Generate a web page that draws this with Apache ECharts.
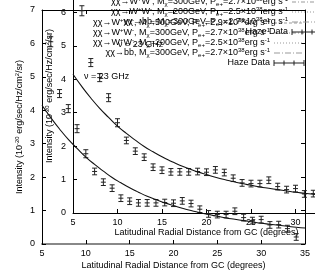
<!DOCTYPE html>
<html><head><meta charset="utf-8">
<script src="https://cdn.jsdelivr.net/npm/echarts/dist/echarts.min.js"></script>
<style>html,body{margin:0;padding:0;background:#fff}#c{width:315px;height:270px}</style>
</head><body><div id="c"></div>
<script>
// ---- data ----
const hazeX = [6,7,8,9,10,11,12,13,14,15,16,17,18,19,20,21,22,23,24,25,26,27,28,29,30,31,32,33,34];
const hazeY = [6.05,4.5,4.05,3.45,2.7,2.17,1.85,1.67,1.37,1.28,1.23,1.23,1.23,1.24,1.22,1.29,1.21,1.04,0.9,0.88,0.88,0.98,0.79,0.7,0.73,0.57,0.58,0.46,0.21];
const hazeErr = [0.15,0.12,0.12,0.12,0.12,0.1,0.1,0.1,0.1,0.1,0.1,0.1,0.1,0.1,0.1,0.1,0.1,0.1,0.1,0.1,0.1,0.1,0.1,0.1,0.1,0.1,0.1,0.1,0.1];
const modelX = [5,6,7,8,9,10,11,12,13,14,15,16,17,18,19,20,21,22,23,24,25,26,27,28,29,30,31,32,33,34,35];
const modelY = [4.15,3.78,3.44,3.13,2.86,2.6,2.38,2.18,1.99,1.83,1.68,1.55,1.43,1.33,1.23,1.15,1.07,1.0,0.94,0.88,0.83,0.78,0.74,0.7,0.66,0.62,0.59,0.56,0.53,0.5,0.48];
const xRange = [5, 35];
const yRange = [0, 7];
const legendLabels = [
  'χχ→W{sup|+}W{sup|-}, M{sub|χ}=500GeV, P{sub|e+}=2.9×10{sup|38}erg s{sup|-1}',
  'χχ→W{sup|+}W{sup|-}, M{sub|χ}=300GeV, P{sub|e+}=2.7×10{sup|38}erg s{sup|-1}',
  'χχ→W{sup|+}W{sup|-}, M{sub|χ}=200GeV, P{sub|e+}=2.5×10{sup|38}erg s{sup|-1}',
  'χχ→bb, M{sub|χ}=300GeV, P{sub|e+}=2.7×10{sup|38}erg s{sup|-1}',
  'Haze Data'
];
const freqLabel = 'ν = 23 GHz';
const xName = 'Latitudinal Radial Distance from GC (degrees)';
const yName = 'Intensity (10{sup|-20} erg/sec/Hz/cm{sup|2}/sr)';

const FONT = 'Liberation Sans, Arial, sans-serif';
const FS = 9;
const rich = {
  sup: {fontSize: 6, verticalAlign: 'top', fontFamily: FONT, lineHeight: 11},
  sub: {fontSize: 6, verticalAlign: 'bottom', fontFamily: FONT, lineHeight: 11},
  n: {fontSize: FS, fontFamily: FONT, lineHeight: 11}
};

const chart = echarts.init(document.getElementById('c'), null, {renderer: 'canvas'});
const hazeData = hazeX.map((x, i) => [x, hazeY[i], hazeErr[i]]);
const modelData = modelX.map((x, i) => [x, modelY[i]]);

function errRender(params, api) {
  const x = api.value(0), y = api.value(1), e = api.value(2);
  const c = api.coord([x, y]);
  const hi = api.coord([x, y + e]);
  const lo = api.coord([x, y - e]);
  const st = {stroke: '#222', lineWidth: 1};
  const w = 2.5;
  return {type: 'group', children: [
    {type: 'line', shape: {x1: c[0], y1: hi[1], x2: c[0], y2: lo[1]}, style: st},
    {type: 'line', shape: {x1: c[0] - w, y1: hi[1], x2: c[0] + w, y2: hi[1]}, style: st},
    {type: 'line', shape: {x1: c[0] - w, y1: lo[1], x2: c[0] + w, y2: lo[1]}, style: st},
    {type: 'line', shape: {x1: c[0] - 2.5, y1: c[1], x2: c[0] + 2.5, y2: c[1]}, style: st}
  ]};
}

function xAx(grid, pos, labels, name, gap) {
  return {
    type: 'value', gridIndex: grid, position: pos, min: xRange[0], max: xRange[1], interval: 5,
    axisLine: {show: true, onZero: false, lineStyle: {color: '#000', width: 1}},
    axisTick: {show: true, inside: true, length: 4, lineStyle: {color: '#000'}},
    axisLabel: {show: labels, color: '#000', fontSize: FS, fontFamily: FONT, margin: 5},
    splitLine: {show: false},
    name: name, nameLocation: 'middle', nameGap: gap, nameMoveOverlap: false,
    nameTextStyle: {color: '#000', fontSize: FS, fontFamily: FONT}
  };
}
function yAx(grid, pos, labels, name, gap) {
  return {
    type: 'value', gridIndex: grid, position: pos, min: yRange[0], max: yRange[1], interval: 1,
    axisLine: {show: true, onZero: false, lineStyle: {color: '#000', width: 1}},
    axisTick: {show: true, inside: true, length: 4, lineStyle: {color: '#000'}},
    axisLabel: {show: labels, color: '#000', fontSize: FS, fontFamily: FONT, margin: 7},
    splitLine: {show: false},
    name: name, nameLocation: 'middle', nameGap: gap, nameRotate: 90, nameMoveOverlap: false,
    nameTextStyle: {color: '#000', fontSize: FS, fontFamily: FONT, rich: rich}
  };
}

const xa0 = xAx(0, 'bottom', true, xName, 17);
xa0.axisLine.lineStyle = {color: '#888', width: 2};
const option = {
  animation: false,
  backgroundColor: '#fff',
  grid: [
    {left: 42, top: 10, width: 263, height: 234, containLabel: false, outerBoundsMode: 'none'},
    {left: 73, top: -21, width: 267, height: 234, containLabel: false, outerBoundsMode: 'none'}
  ],
  xAxis: [
    xa0,
    xAx(0, 'top', false, '', 0),
    xAx(1, 'bottom', true, xName, 15)
  ],
  yAxis: [
    yAx(0, 'left', true, yName, 17),
    yAx(0, 'right', false, '', 0),
    yAx(1, 'left', true, yName, 18)
  ],
  series: [
    {type: 'line', xAxisIndex: 0, yAxisIndex: 0, data: modelData, smooth: true, showSymbol: false,
     lineStyle: {color: '#111', width: 1.1}},
    {type: 'custom', xAxisIndex: 0, yAxisIndex: 0, data: hazeData, renderItem: errRender, clip: false},
    {type: 'line', xAxisIndex: 2, yAxisIndex: 2, data: modelData, smooth: true, showSymbol: false,
     lineStyle: {color: '#111', width: 1.1}},
    {type: 'custom', xAxisIndex: 2, yAxisIndex: 2, data: hazeData, renderItem: errRender, clip: false}
  ],
  graphic: []
};

// keys (one per plot), text right-aligned with a sample to the right
const sampleDash = [[3, 2], [4, 2, 1, 2], [1, 2], [6, 2, 1, 2], null];
function addKey(rightX, topY, sx1, sx2) {
  legendLabels.forEach((lab, i) => {
    const y = topY + i * 10;
    option.graphic.push({type: 'text', x: rightX, y: y, z: 100,
      style: {text: lab, rich: rich, fill: '#000', font: FS + 'px ' + FONT, align: 'right', verticalAlign: 'middle'}});
    if (sampleDash[i]) {
      option.graphic.push({type: 'line', z: 100, shape: {x1: sx1, y1: y, x2: sx2, y2: y},
        style: {stroke: '#999', lineWidth: 1, lineDash: sampleDash[i]}});
    } else {
      const st = {stroke: '#222', lineWidth: 1};
      option.graphic.push({type: 'line', z: 100, shape: {x1: sx1, y1: y, x2: sx2, y2: y}, style: st});
      [sx1, sx2].forEach(xx => option.graphic.push({type: 'line', z: 100, shape: {x1: xx, y1: y - 3, x2: xx, y2: y + 3}, style: st}));
      [sx1 + (sx2 - sx1) / 3, sx1 + 2 * (sx2 - sx1) / 3].forEach(xx => option.graphic.push({type: 'line', z: 100, shape: {x1: xx, y1: y - 2.5, x2: xx, y2: y + 2.5}, style: st}));
    }
  });
}
addKey(270, 23, 274, 304);
addKey(288, -8, 292, 322);
option.graphic.push({type: 'text', x: 84, y: 77, z: 100, style: {text: freqLabel, fill: '#000', font: FS + 'px ' + FONT, align: 'left', verticalAlign: 'middle'}});
option.graphic.push({type: 'text', x: 118, y: 45, z: 100, style: {text: freqLabel, fill: '#000', font: FS + 'px ' + FONT, align: 'left', verticalAlign: 'middle'}});

chart.setOption(option);
</script>
</body></html>
